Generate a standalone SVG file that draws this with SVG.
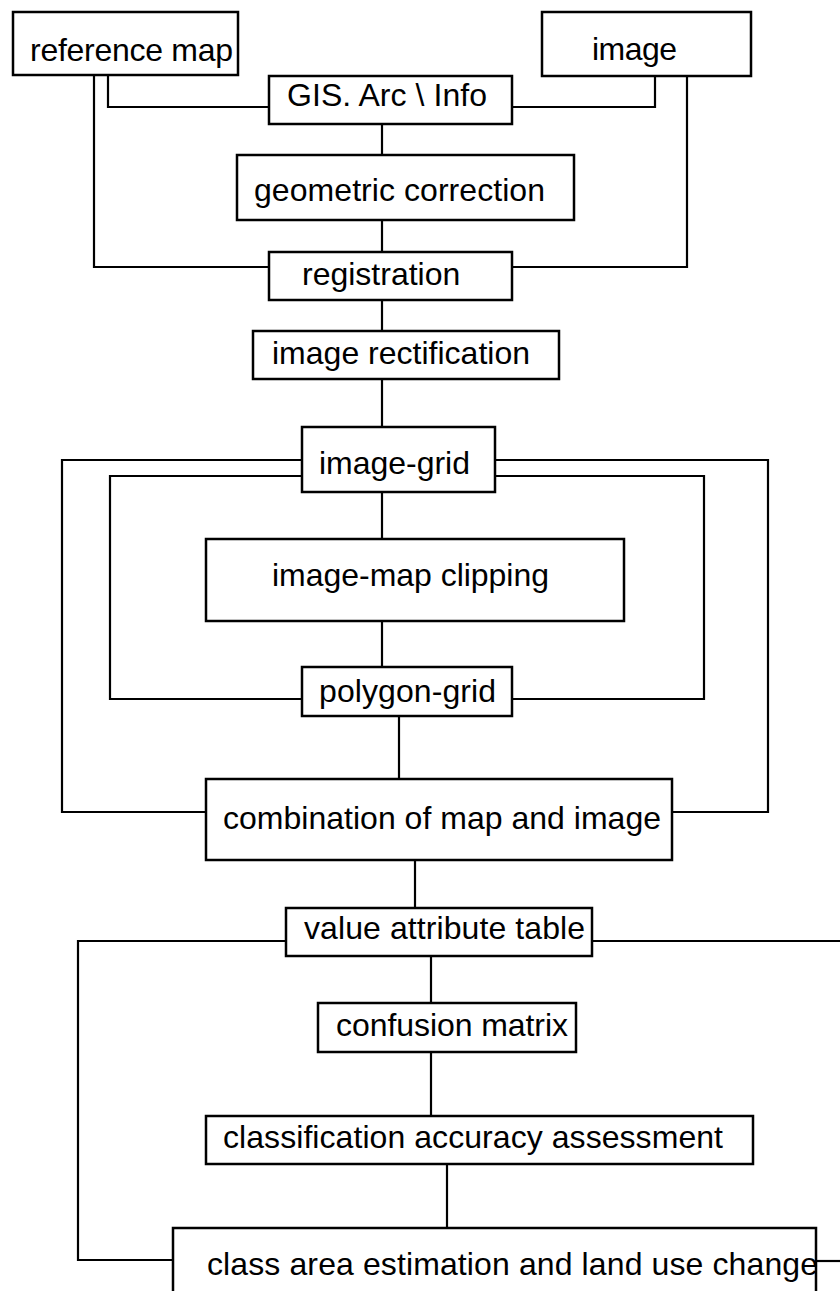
<svg xmlns="http://www.w3.org/2000/svg" width="840" height="1291" viewBox="0 0 840 1291">
<style>
.box{fill:#fff;stroke:#000;stroke-width:2.5}
.lbl{font-family:"Liberation Sans",Arial,sans-serif;font-size:32px;fill:#000}
.con{fill:none;stroke:#000;stroke-width:2.2}
</style>
<rect x="0" y="0" width="840" height="1291" fill="#fff"/>
<g id="connectors">
<path class="con" d="M108,75 V107 H269"/>
<path class="con" d="M655,76 V107 H512"/>
<path class="con" d="M382,124 V155"/>
<path class="con" d="M382,220 V252"/>
<path class="con" d="M94,75 V267 H269"/>
<path class="con" d="M687,76 V267 H512"/>
<path class="con" d="M382,300 V331"/>
<path class="con" d="M382,379 V427"/>
<path class="con" d="M382,492 V539"/>
<path class="con" d="M382,621 V667"/>
<path class="con" d="M302,460 H62 V812 H206"/>
<path class="con" d="M495,460 H768 V812 H672"/>
<path class="con" d="M302,476 H110 V699 H302"/>
<path class="con" d="M495,476 H704 V699 H512"/>
<path class="con" d="M399,716 V779"/>
<path class="con" d="M415,860 V908"/>
<path class="con" d="M286,941 H78 V1260 H173"/>
<path class="con" d="M592,941 H842"/>
<path class="con" d="M816,1261 H842"/>
<path class="con" d="M431,956 V1003"/>
<path class="con" d="M431,1052 V1116"/>
<path class="con" d="M447,1164 V1228"/>
</g>
<g id="reference-map"><rect class="box" x="13" y="12" width="225" height="63"/><text class="lbl" x="30" y="61" textLength="203">reference map</text></g>
<g id="image"><rect class="box" x="542" y="12" width="209" height="64"/><text class="lbl" x="592" y="60" textLength="85">image</text></g>
<g id="gis"><rect class="box" x="269" y="76" width="243" height="48"/><text class="lbl" x="287" y="106" textLength="200">GIS. Arc \ Info</text></g>
<g id="geometric-correction"><rect class="box" x="237" y="155" width="337" height="65"/><text class="lbl" x="254" y="201" textLength="291">geometric correction</text></g>
<g id="registration"><rect class="box" x="269" y="252" width="243" height="48"/><text class="lbl" x="302" y="285">registration</text></g>
<g id="image-rectification"><rect class="box" x="253" y="331" width="306" height="48"/><text class="lbl" x="272" y="364" textLength="258">image rectification</text></g>
<g id="image-grid"><rect class="box" x="302" y="427" width="193" height="65"/><text class="lbl" x="319" y="474" textLength="151">image-grid</text></g>
<g id="image-map-clipping"><rect class="box" x="206" y="539" width="418" height="82"/><text class="lbl" x="272" y="586" textLength="277">image-map clipping</text></g>
<g id="polygon-grid"><rect class="box" x="302" y="667" width="210" height="49"/><text class="lbl" x="319" y="702" textLength="177">polygon-grid</text></g>
<g id="combination"><rect class="box" x="206" y="779" width="466" height="81"/><text class="lbl" x="223" y="829" textLength="438">combination of map and image</text></g>
<g id="value-attribute-table"><rect class="box" x="286" y="908" width="306" height="48"/><text class="lbl" x="304" y="939" textLength="281">value attribute table</text></g>
<g id="confusion-matrix"><rect class="box" x="318" y="1003" width="258" height="49"/><text class="lbl" x="336" y="1036" textLength="232">confusion matrix</text></g>
<g id="classification-accuracy"><rect class="box" x="206" y="1116" width="547" height="48"/><text class="lbl" x="223" y="1148" textLength="500">classification accuracy assessment</text></g>
<g id="class-area"><rect class="box" x="173" y="1228" width="643" height="70"/><text class="lbl" x="207" y="1275" textLength="611">class area estimation and land use change</text></g>
</svg>
